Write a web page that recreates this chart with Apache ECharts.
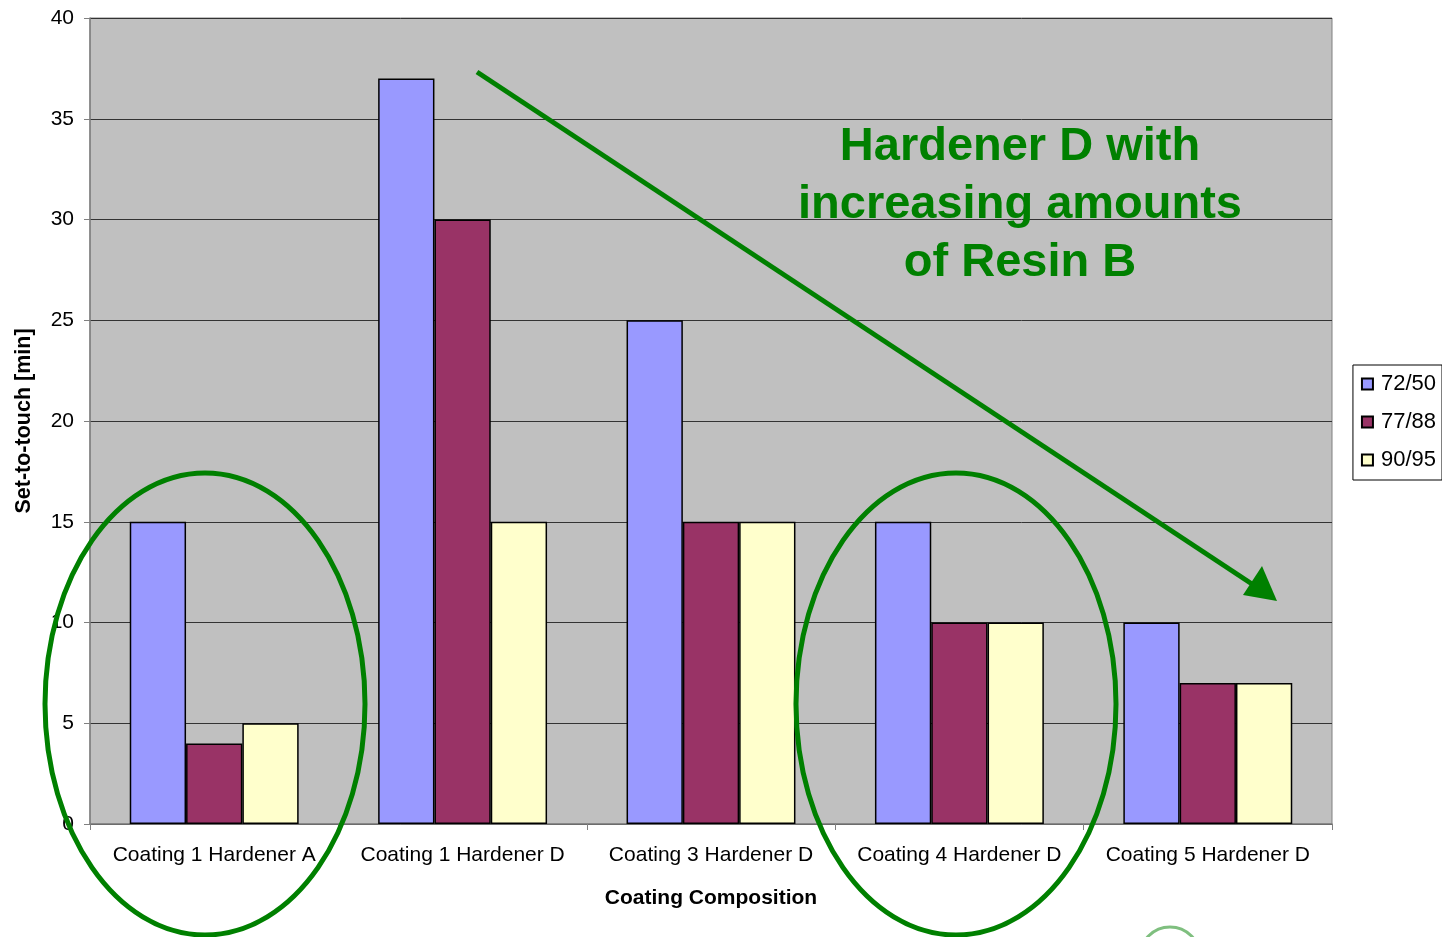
<!DOCTYPE html>
<html><head><meta charset="utf-8">
<script src="https://cdn.jsdelivr.net/npm/echarts@6/dist/echarts.min.js"></script>
<style>html,body{margin:0;padding:0;background:#fff}#c{width:1442px;height:937px}</style>
</head><body><div id="c"></div>
<script>
const categories = ['Coating 1 Hardener A','Coating 1 Hardener D','Coating 3 Hardener D','Coating 4 Hardener D','Coating 5 Hardener D'];
const seriesNames = ['72/50','77/88','90/95'];
const s7250 = [15, 37, 25, 15, 10];
const s7788 = [4, 30, 15, 10, 7];
const s9095 = [5, 15, 15, 10, 7];
const yTicks = [0,5,10,15,20,25,30,35,40];
const colors = ['#9999FF','#993366','#FFFFCC'];
const FONT = 'Liberation Sans, Arial, sans-serif';
const GREEN = '#008000';

const chart = echarts.init(document.getElementById('c'));
const mk = (name, data, i) => ({
  name, type:'bar', data, barGap:'0%', barCategoryGap:'32%',
  itemStyle:{color:colors[i], borderColor:'#000', borderWidth:1.5},
  emphasis:{disabled:true}, animation:false
});
chart.setOption({
  animation:false,
  textStyle:{fontFamily:FONT},
  grid:{left:90, right:110, top:18, bottom:113, outerBoundsMode:'none', show:true, backgroundColor:'#C0C0C0', borderColor:'#808080', borderWidth:1},
  legend:{
    orient:'vertical', right:0, top:365,
    backgroundColor:'#fff', borderColor:'#000', borderWidth:1,
    padding:[8,6,9,8], itemWidth:11, itemHeight:11, itemGap:16,
    icon:'rect', data:seriesNames,
    textStyle:{fontSize:22, color:'#000', fontFamily:FONT, padding:[0,0,0,3]}
  },
  xAxis:{
    type:'category', data:categories,
    name:'Coating Composition', nameLocation:'middle', nameGap:64,
    nameTextStyle:{fontSize:21, fontWeight:'bold', color:'#000', fontFamily:FONT},
    axisLine:{lineStyle:{color:'#808080', width:1.5}},
    axisTick:{show:true, alignWithLabel:false, length:6, lineStyle:{color:'#808080'}},
    axisLabel:{fontSize:21, color:'#000', margin:21, interval:0}
  },
  yAxis:{
    type:'value', min:0, max:40, interval:5,
    name:'Set-to-touch [min]', nameLocation:'middle', nameGap:55, nameRotate:90,
    nameTextStyle:{fontSize:21.5, fontWeight:'bold', color:'#000', fontFamily:FONT},
    axisLine:{show:true, lineStyle:{color:'#808080', width:1.5}},
    axisTick:{show:true, length:6, lineStyle:{color:'#808080'}},
    axisLabel:{fontSize:21, color:'#000', margin:16, formatter:v=>yTicks.includes(v)?String(v):''},
    splitLine:{show:true, lineStyle:{color:'#333', width:1}}
  },
  series:[mk(seriesNames[0], s7250, 0), mk(seriesNames[1], s7788, 1), mk(seriesNames[2], s9095, 2)],
  graphic:[
    {type:'ellipse', shape:{cx:205, cy:704, rx:160, ry:231}, style:{fill:null, stroke:GREEN, lineWidth:5}, z:100},
    {type:'ellipse', shape:{cx:956, cy:704, rx:160, ry:231}, style:{fill:null, stroke:GREEN, lineWidth:5}, z:100},
    {type:'line', shape:{x1:477, y1:72, x2:1255, y2:586}, style:{stroke:GREEN, lineWidth:5}, z:100},
    {type:'polygon', shape:{points:[[1277,601],[1243,595],[1262,566]]}, style:{fill:GREEN}, z:100},
    {type:'text', x:1020, y:118, z:100,
      style:{text:'Hardener D with\nincreasing amounts\nof Resin B', fill:GREEN, font:'bold 47px '+FONT, align:'center', lineHeight:58}},
    {type:'circle', shape:{cx:1170, cy:957, r:30}, style:{fill:'#fff', stroke:'#7fbf7f', lineWidth:3}, z:100}
  ]
});
</script></body></html>
